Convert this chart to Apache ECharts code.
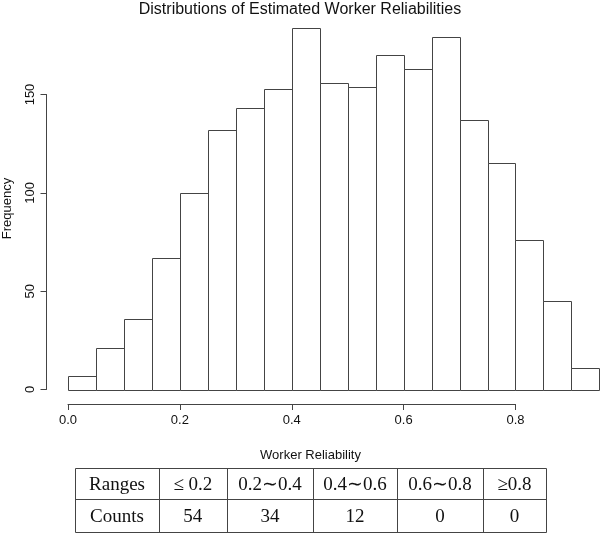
<!DOCTYPE html>
<html>
<head>
<meta charset="utf-8">
<script src="https://cdn.jsdelivr.net/npm/echarts@6/dist/echarts.min.js"></script>
<style>
html,body{margin:0;padding:0;background:#fff;}
#chart{width:600px;height:533px;}
</style>
</head>
<body>
<div id="chart"></div>
<script>
// ---- data ----
var binEdges = [0,0.05,0.1,0.15,0.2,0.25,0.3,0.35,0.4,0.45,0.5,0.55,0.6,0.65,0.7,0.75,0.8,0.85,0.9,0.95];
var frequencies = [7,21,36,67,100,132,143,153,184,156,154,170,163,179,137,115,76,45,11];
var xTicks = [0, 0.2, 0.4, 0.6, 0.8];
var yTicks = [0, 50, 100, 150];
var tableHeader = ['Ranges', '\u2264 0.2', '0.2\u223C0.4', '0.4\u223C0.6', '0.6\u223C0.8', '\u22650.8'];
var tableCounts = ['Counts', 54, 34, 12, 0, 0];
var titleText = 'Distributions of Estimated Worker Reliabilities';
var xName = 'Worker Reliability';
var yName = 'Frequency';

// ---- build ----
var histData = frequencies.map(function (f, i) { return [binEdges[i], binEdges[i + 1], f]; });
var LINE = '#444';
var SANS = 'Liberation Sans, Arial, Helvetica, sans-serif';
var SERIF = 'Liberation Serif, Times New Roman, serif';

// table layout
var colX = [75, 159, 226.7, 313.3, 396.7, 483.3, 545.7];
var rowY = [467.7, 499.3, 531.7];
var tableEls = [];
function px(v){ return Math.round(v) + 0.5; }
for (var r = 0; r < rowY.length; r++) {
  tableEls.push({type:'line', shape:{x1:px(colX[0]), y1:px(rowY[r]), x2:px(colX[colX.length-1]), y2:px(rowY[r])}, style:{stroke:LINE, lineWidth:1}});
}
for (var c = 0; c < colX.length; c++) {
  tableEls.push({type:'line', shape:{x1:px(colX[c]), y1:px(rowY[0]), x2:px(colX[c]), y2:px(rowY[rowY.length-1])}, style:{stroke:LINE, lineWidth:1}});
}
[tableHeader, tableCounts].forEach(function (row, ri) {
  row.forEach(function (txt, ci) {
    tableEls.push({
      type:'text',
      x:(colX[ci] + colX[ci+1]) / 2,
      y:(rowY[ri] + rowY[ri+1]) / 2 + 1.5,
      style:{text:String(txt), fill:'#111', font:'19px ' + SERIF, textAlign:'center', textVerticalAlign:'middle'}
    });
  });
});

var chart = echarts.init(document.getElementById('chart'), null, {renderer:'canvas'});
chart.setOption({
  animation:false,
  backgroundColor:'#fff',
  title:{
    text:titleText, left:'center', top:2, padding:0,
    textStyle:{fontFamily:SANS, fontSize:16, fontWeight:'normal', color:'#111'}
  },
  grid:[
    {left:68, right:0.6, top:15.8, bottom:143.5},   // bars
    {left:46.5, width:20, top:94.5, bottom:143.5},   // y axis display
    {left:68, width:447.5, top:390, bottom:129}       // x axis display
  ],
  xAxis:[
    {gridIndex:0, type:'value', min:0, max:0.95, show:false},
    {gridIndex:1, type:'value', min:0, max:1, show:false},
    {gridIndex:2, type:'value', min:xTicks[0], max:xTicks[xTicks.length-1], interval:0.2, position:'bottom',
      axisLine:{show:true, lineStyle:{color:LINE, width:1}},
      axisTick:{show:true, length:6, inside:false, lineStyle:{color:LINE, width:1}},
      splitLine:{show:false},
      axisLabel:{margin:10, color:'#111', fontFamily:SANS, fontSize:13, formatter:function(v){return v.toFixed(1);}}
    }
  ],
  yAxis:[
    {gridIndex:0, type:'value', min:0, max:190, show:false},
    {gridIndex:1, type:'value', min:yTicks[0], max:yTicks[yTicks.length-1], interval:50, position:'left',
      axisLine:{show:true, lineStyle:{color:LINE, width:1}},
      axisTick:{show:true, length:6, inside:false, lineStyle:{color:LINE, width:1}},
      splitLine:{show:false},
      axisLabel:{margin:10, rotate:90, color:'#111', fontFamily:SANS, fontSize:13}
    },
    {gridIndex:2, type:'value', show:false}
  ],
  graphic:[
    {type:'text', x:7, y:208.5, rotation:Math.PI/2,
      style:{text:yName, fill:'#111', font:'13px ' + SANS, textAlign:'center', textVerticalAlign:'middle'}},
    {type:'text', x:310.5, y:455,
      style:{text:xName, fill:'#111', font:'13px ' + SANS, textAlign:'center', textVerticalAlign:'middle'}}
  ].concat(tableEls),
  series:[{
    type:'custom',
    xAxisIndex:0, yAxisIndex:0,
    data:histData,
    renderItem:function (params, api) {
      var p0 = api.coord([api.value(0), 0]);
      var p1 = api.coord([api.value(1), api.value(2)]);
      var x0 = Math.round(p0[0]) + 0.5, x1 = Math.round(p1[0]) + 0.5;
      var yb = Math.round(p0[1]) + 0.5, yt = Math.round(p1[1]) + 0.5;
      return {
        type:'rect',
        shape:{x:x0, y:yt, width:x1 - x0, height:yb - yt},
        style:{fill:'#fff', stroke:LINE, lineWidth:1}
      };
    }
  }]
});
</script>
</body>
</html>
